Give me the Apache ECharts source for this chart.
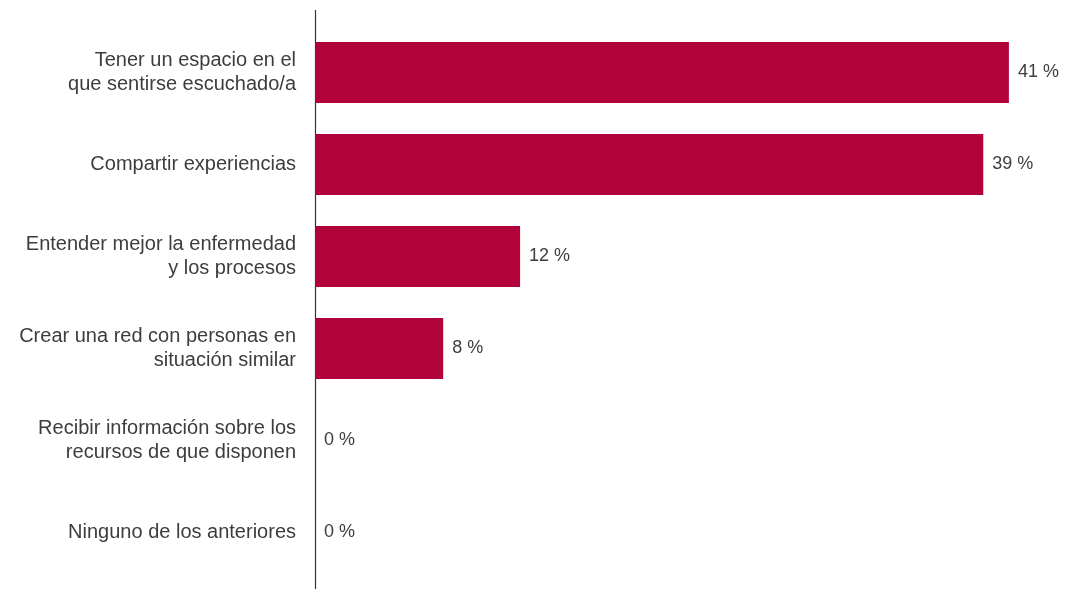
<!DOCTYPE html>
<html>
<head>
<meta charset="utf-8">
<script src="https://cdn.jsdelivr.net/npm/echarts@6/dist/echarts.min.js"></script>
<style>
  html, body { margin: 0; padding: 0; background: #fff; }
  #chart { width: 1067px; height: 589px; }
</style>
</head>
<body>
<div id="chart"></div>
<script>
// categorías (de arriba a abajo)
const categories = [
  'Tener un espacio en el\nque sentirse escuchado/a',
  'Compartir experiencias',
  'Entender mejor la enfermedad\ny los procesos',
  'Crear una red con personas en\nsituación similar',
  'Recibir información sobre los\nrecursos de que disponen',
  'Ninguno de los anteriores'
]
// porcentajes
const values = [40.6, 39.1, 12.0, 7.5, 0, 0]

const myChart = echarts.init(document.getElementById('chart'))

const option = {
  animation: false,
  grid: {
    left: 315,
    right: 0,
    top: 26.5,
    height: 552
  },
  xAxis: {
    type: 'value',
    min: 0,
    max: 44,
    show: false
  },
  yAxis: {
    type: 'category',
    inverse: true,
    data: categories,
    axisLine: { show: false },
    axisTick: { show: false },
    axisLabel: {
      margin: 19,
      fontFamily: 'Liberation Sans, Arial, sans-serif',
      fontSize: 20,
      lineHeight: 24,
      color: '#3d3d3d',
      align: 'right'
    }
  },
  series: [
    {
      type: 'bar',
      data: values,
      barWidth: 61,
      itemStyle: { color: '#B1033A' },
      label: {
        show: true,
        position: 'right',
        distance: 9,
        fontFamily: 'Liberation Sans, Arial, sans-serif',
        fontSize: 18,
        color: '#3d3d3d',
        formatter: (p) => Math.round(p.value) + ' %'
      }
    }
  ],
  // línea vertical del eje, más larga que la rejilla
  graphic: [
    {
      type: 'line',
      shape: { x1: 315.5, y1: 10, x2: 315.5, y2: 589 },
      style: { stroke: '#333333', lineWidth: 1.2 }
    }
  ]
}

myChart.setOption(option)
</script>
</body>
</html>
